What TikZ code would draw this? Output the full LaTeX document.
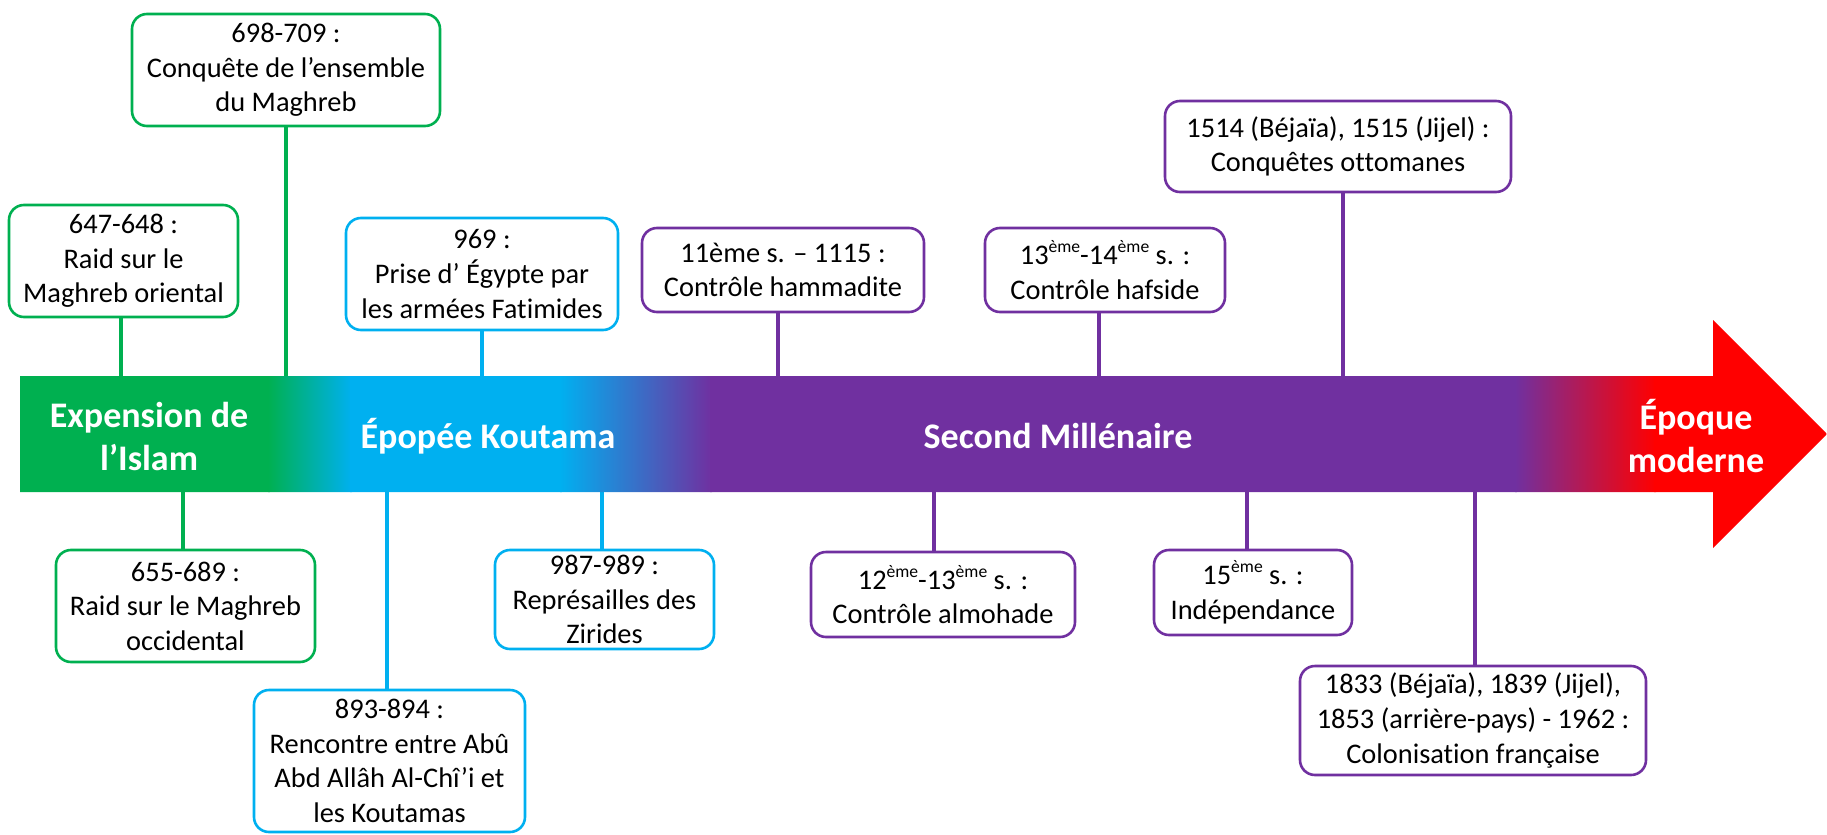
\documentclass[tikz,border=0pt]{standalone}
\usepackage{fontspec}
\setmainfont{Carlito}[Ligatures={NoCommon}]
\definecolor{cgreen}{HTML}{00B050}
\definecolor{ccyan}{HTML}{00B0F0}
\definecolor{cpurple}{HTML}{7030A0}
\definecolor{cred}{HTML}{FF0000}
\newcommand{\supx}[1]{\raisebox{0.42em}{\fontsize{8.8}{9}\selectfont #1}}
\tikzset{
  evbox/.style={draw, rounded corners=7.5pt, line width=1.3pt, fill=white, align=center,
    inner sep=0pt, font=\fontsize{14.2}{17.3}\selectfont, text=black},
  gbox/.style={evbox, draw=cgreen},
  cbox/.style={evbox, draw=ccyan},
  pbox/.style={evbox, draw=cpurple},
  conn/.style={line width=2.3pt},
  bandtext/.style={text=white, font=\fontsize{18}{21.5}\selectfont\bfseries, align=center}
}
\begin{document}
\begin{tikzpicture}[x=0.5pt,y=-0.5pt]
\useasboundingbox (0,0) rectangle (1827,835);
\coordinate (bandtop) at (0,376);
\coordinate (bandbot) at (0,492);

% boxes above
\node[gbox, minimum width=154pt, minimum height=56pt] (A) at (286,70)
  {698-709 :\\Conquête de l’ensemble\\du Maghreb};
\node[gbox, minimum width=114.5pt, minimum height=56pt] (B) at (123.5,261)
  {647-648 :\\Raid sur le\\Maghreb oriental};
\node[cbox, minimum width=136pt, minimum height=56pt] (C) at (482,274)
  {969 :\\Prise d’ Égypte par\\les armées Fatimides};
\node[pbox, minimum width=141pt, minimum height=42pt] (D) at (783,270)
  {11ème s. – 1115 :\\Contrôle hammadite};
\node[pbox, minimum width=120pt, minimum height=42pt] (E) at (1105,270)
  {13\supx{ème}-14\supx{ème} s. :\\Contrôle hafside};
\node[pbox, minimum width=173pt, minimum height=45.5pt] (F) at (1338,146.5)
  {1514 (Béjaïa), 1515 (Jijel) :\\Conquêtes ottomanes};

% boxes below
\node[gbox, minimum width=129.5pt, minimum height=56pt] (G) at (185.5,606)
  {655-689 :\\Raid sur le Maghreb\\occidental};
\node[cbox, minimum width=135.5pt, minimum height=71pt] (H) at (389.5,761)
  {893-894 :\\Rencontre entre Abû\\Abd Allâh Al-Chî’i et\\les Koutamas};
\node[cbox, minimum width=109.5pt, minimum height=49.5pt] (I) at (604.5,599.5)
  {987-989 :\\Représailles des\\Zirides};
\node[pbox, minimum width=132pt, minimum height=42.5pt] (J) at (943,594.5)
  {12\supx{ème}-13\supx{ème} s. :\\Contrôle almohade};
\node[pbox, minimum width=99pt, minimum height=42.5pt] (K) at (1253,592.5)
  {15\supx{ème} s. :\\Indépendance};
\node[pbox, minimum width=173pt, minimum height=54.5pt] (L) at (1473,720.5)
  {1833 (Béjaïa), 1839 (Jijel),\\1853 (arrière-pays) - 1962 :\\Colonisation française};

% connectors
\draw[conn, cgreen] (A.south) -- (A.south |- bandtop);
\draw[conn, cgreen] ([xshift=-1.25pt]B.south) -- ([xshift=-1.25pt]B.south |- bandtop);
\draw[conn, ccyan] (C.south) -- (C.south |- bandtop);
\draw[conn, cpurple] ([xshift=-2.5pt]D.south) -- ([xshift=-2.5pt]D.south |- bandtop);
\draw[conn, cpurple] ([xshift=-3pt]E.south) -- ([xshift=-3pt]E.south |- bandtop);
\draw[conn, cpurple] ([xshift=2.5pt]F.south) -- ([xshift=2.5pt]F.south |- bandtop);
\draw[conn, cgreen] ([xshift=-1.25pt]G.north) -- ([xshift=-1.25pt]G.north |- bandbot);
\draw[conn, ccyan] ([xshift=-1.25pt]H.north) -- ([xshift=-1.25pt]H.north |- bandbot);
\draw[conn, ccyan] ([xshift=-1.25pt]I.north) -- ([xshift=-1.25pt]I.north |- bandbot);
\draw[conn, cpurple] ([xshift=-4.5pt]J.north) -- ([xshift=-4.5pt]J.north |- bandbot);
\draw[conn, cpurple] ([xshift=-3pt]K.north) -- ([xshift=-3pt]K.north |- bandbot);
\draw[conn, cpurple] ([xshift=1pt]L.north) -- ([xshift=1pt]L.north |- bandbot);

% band (timeline arrow) with gradient, clipped by a single outline
\begin{scope}
\clip (20,376) -- (1713,376) -- (1713,320) -- (1827,434) -- (1713,548) -- (1713,492) -- (20,492) -- cycle;
\fill[cgreen] (10,310) rectangle (270,560);
\shade[left color=cgreen, right color=ccyan] (268,310) rectangle (352,560);
\fill[ccyan] (350,310) rectangle (562,560);
\shade[left color=ccyan, right color=cpurple] (560,310) rectangle (712,560);
\fill[cpurple] (710,310) rectangle (1517,560);
\shade[left color=cpurple, right color=cred] (1515,310) rectangle (1656,560);
\fill[cred] (1654,310) rectangle (1835,560);
\end{scope}

% band labels
\node[bandtext] (t1) at (149,436) {Expension de\\l’Islam};
\node[bandtext] (t2) at (488,436) {Épopée Koutama};
\node[bandtext] (t3) at (1058,436) {Second Millénaire};
\node[bandtext] (t4) at (1696,436) {Époque\\moderne};
\end{tikzpicture}
\end{document}
